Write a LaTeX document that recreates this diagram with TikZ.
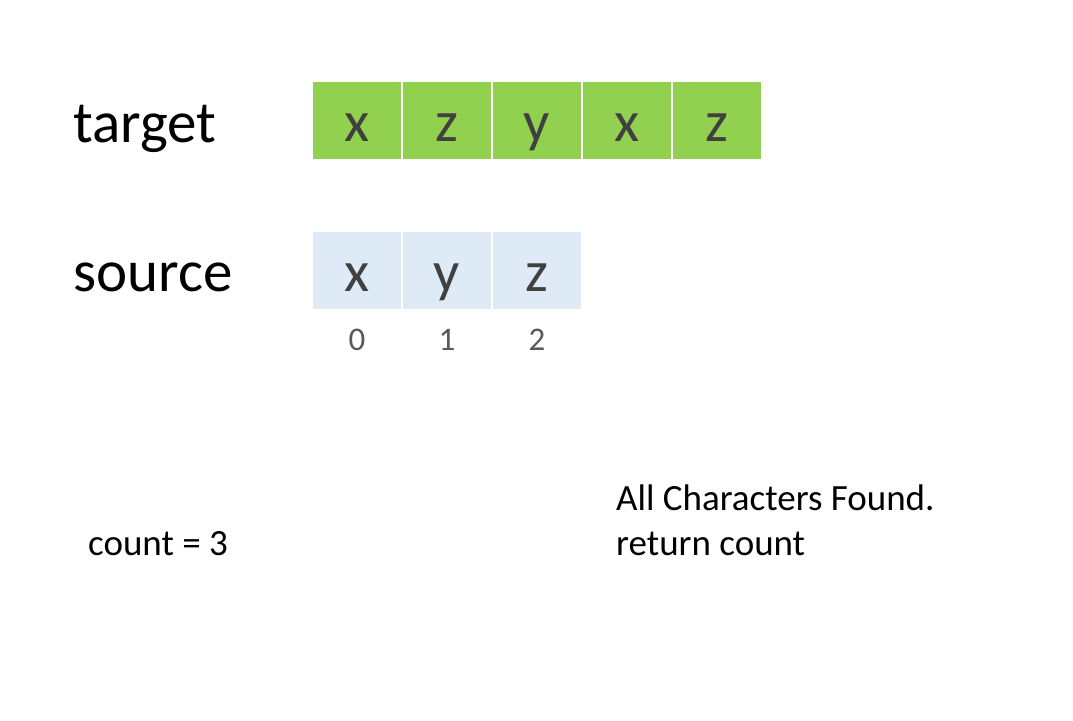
\documentclass[tikz,border=0pt]{standalone}
\usepackage{fontspec}
\setmainfont{Carlito}
\usetikzlibrary{positioning}
\definecolor{cellgreen}{RGB}{146,208,80}
\definecolor{cellblue}{RGB}{222,235,247}
\definecolor{lettergray}{RGB}{64,64,64}
\definecolor{indexgray}{RGB}{89,89,89}

\begin{document}
\begin{tikzpicture}[x=1pt, y=-1pt,
  cell/.style={draw=white, line width=1.5pt, minimum width=90pt, minimum height=79pt,
    inner sep=0pt, text height=41pt, text depth=0pt, text=lettergray,
    font=\fontsize{58}{60}\selectfont},
  rowname/.style={anchor=base west, inner sep=0pt, font=\fontsize{59}{62}\selectfont},
  note/.style={anchor=base west, inner sep=0pt, font=\fontsize{37}{45}\selectfont},
  index/.style={anchor=base, inner sep=0pt, text=indexgray, font=\fontsize{33}{36}\selectfont}]
  \useasboundingbox (0,0) rectangle (1073,720);
  % row names
  \node[rowname] (target) at (73,142) {target};
  \node[rowname] (source) at (73,291) {source};
  % target string
  \foreach \c [count=\n] in {x,z,y,x,z}{
    \node[cell, fill=cellgreen] (t\n) at (267+90*\n,120.5) {\c};
  }
  % source string and its indices
  \foreach \c [count=\n] in {x,y,z}{
    \node[cell, fill=cellblue] (s\n) at (267+90*\n,270.5) {\c};
    \pgfmathtruncatemacro{\i}{\n-1}
    \node[index] (i\n) at (267+90*\n,350) {\i};
  }
  % status
  \node[note] (count) at (88,555) {count = 3};
  \node[note] (found) at (616,510) {All Characters Found.};
  \node[note] (ret) at (616,555) {return count};
\end{tikzpicture}
\end{document}
